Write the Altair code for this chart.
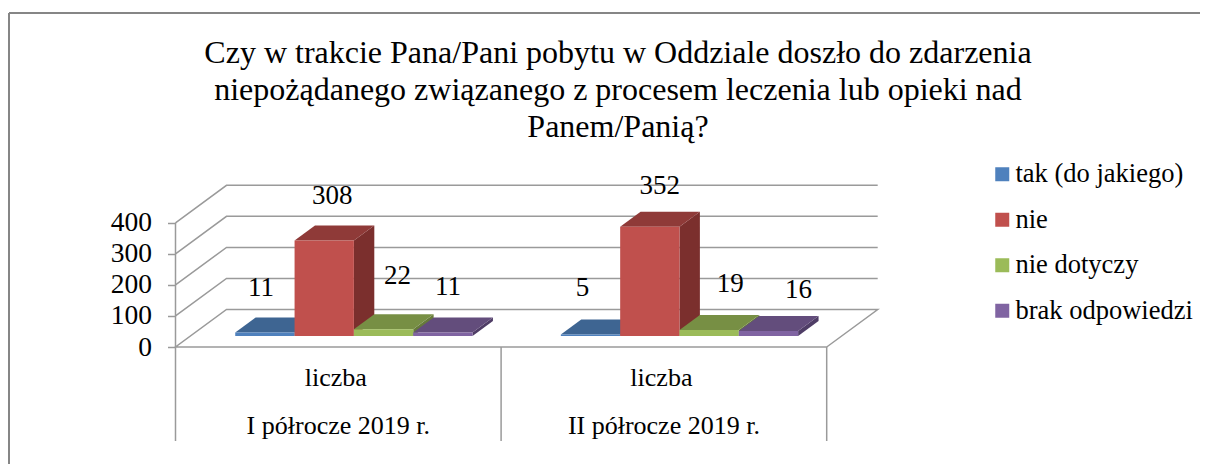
import altair as alt
import pandas as pd

# ---- data ----
periods = ["I półrocze 2019 r.", "II półrocze 2019 r."]
series = ["tak (do jakiego)", "nie", "nie dotyczy", "brak odpowiedzi"]
values_h1 = [11, 308, 22, 11]
values_h2 = [5, 352, 19, 16]
ticks = [0, 100, 200, 300, 400]
front_colors = ["#4F81BD", "#C0504D", "#9BBB59", "#8064A2"]
top_colors = ["#3E6592", "#8F3A38", "#778F44", "#634D7C"]
side_colors = ["#34567C", "#7B2F2D", "#667A3A", "#4F3D66"]

# ---- layout ----
W, H = 1192, 456
CAT_PX = 325.6
VAL_PX = 0.3105
X0, Y0 = 175.5 - 8, 347 - 8        # front-left floor corner inside the chart
DEPTH_X = 51 / CAT_PX
DEPTH_V = 37.5 / VAL_PX
D0, D1 = 0.293, 0.693              # bars' depth range
GAP = 0.1376
BAR = 0.1822
LINE = "#9A9A9A"
FONT = "Liberation Serif"

x_scale = alt.Scale(domain=[-X0 / CAT_PX, (W - X0) / CAT_PX], nice=False, zero=False)
y_scale = alt.Scale(domain=[(Y0 - H) / VAL_PX, Y0 / VAL_PX], nice=False, zero=False)


def px(u, d=0.0):
    return u + d * DEPTH_X


def pv(v, d=0.0):
    return v + d * DEPTH_V


# grid lines on the walls and floor edges
grid_rows = []
gid = 0
for t in ticks:
    pts = [(0, 0), (0, 1), (2, 1)] if t else [(2, 0), (0, 0), (0, 1), (2, 1), (2, 0)]
    for order, (u, d) in enumerate(pts):
        grid_rows.append(dict(g=gid, o=order, x=px(u, d), y=pv(t, d)))
    gid += 1
grid_rows += [dict(g=gid, o=0, x=0, y=0), dict(g=gid, o=1, x=0, y=400)]
grid = pd.DataFrame(grid_rows)

faces, fronts, labels = [], [], []
label_dx = [[-4, 8, 14, 5], [-8, 10, 21, 30]]
label_above = [[45, 44, 53, 46], [46, 41, 46, 41]]
fid = 0
for c, vals in enumerate([values_h1, values_h2]):
    for s, v in enumerate(vals):
        a = c + GAP + s * BAR
        b = a + BAR
        # side face
        for d in (D0, D1):
            faces.append(dict(f=fid, col=side_colors[s], x=px(b, d), y=pv(0, d), y2=pv(v, d)))
        fid += 1
        # top face, described left to right
        xl0, xl1, xr0, xr1 = px(a, D0), px(a, D1), px(b, D0), px(b, D1)
        vf, vb = pv(v, D0), pv(v, D1)
        for xx, lo, hi in [(xl0, vf, vf), (xl1, vf, vb), (xr0, vf, vb), (xr1, vb, vb)]:
            faces.append(dict(f=fid, col=top_colors[s], x=xx, y=lo, y2=hi))
        fid += 1
        fronts.append(dict(series=series[s], x=px(a, D0), x2=px(b, D0), y=pv(0, D0), y2=pv(v, D0)))
        labels.append(dict(t=str(v), x=px((a + b) / 2, D0) + label_dx[c][s] / CAT_PX,
                           y=pv(v, D0) + label_above[c][s] / VAL_PX))
faces = pd.DataFrame(faces)
fronts = pd.DataFrame(fronts)
labels = pd.DataFrame(labels)

base_x = alt.X("x:Q", scale=x_scale, axis=None)
base_y = alt.Y("y:Q", scale=y_scale, axis=alt.Axis(
    values=ticks, offset=-X0, title=None, grid=False, domain=False, ticks=True,
    tickColor=LINE, tickWidth=1.5, tickSize=8, labelFont=FONT, labelFontSize=27.5,
    labelColor="black", labelPadding=16, format="d"))

grid_layer = alt.Chart(grid).mark_line(color=LINE, strokeWidth=1.5).encode(
    x=base_x, y=base_y, detail="g:N", order="o:Q",
)

face_layer = alt.Chart(faces).mark_area(orient="vertical", opacity=1, interpolate="linear").encode(
    x=base_x, y=base_y, y2="y2:Q",
    fill=alt.Fill("col:N", scale=None), detail="f:N",
)

front_layer = alt.Chart(fronts).mark_rect().encode(
    x=base_x, x2="x2:Q", y=base_y, y2="y2:Q",
    color=alt.Color("series:N", scale=alt.Scale(domain=series, range=front_colors),
                    legend=alt.Legend(orient="none", legendX=977, legendY=153, title=None,
                                      symbolType="square", symbolSize=196, symbolStrokeWidth=0,
                                      symbolOffset=4,
                                      labelFont=FONT, labelFontSize=26.5, labelColor="black",
                                      rowPadding=18.5, labelOffset=0, labelLimit=300)),
)

label_layer = alt.Chart(labels).mark_text(font=FONT, fontSize=27, color="black").encode(
    x=base_x, y=base_y, text="t:N")

# category dividers
div = pd.DataFrame({"x": [0, 1, 2]})
div_layer = alt.Chart(div).mark_rule(color=LINE, strokeWidth=1.5).encode(
    x=base_x, y=alt.value(Y0), y2=alt.value(441 - 8))

cats = pd.DataFrame({"x": [0.5, 1.5], "t": periods, "s": ["liczba", "liczba"]})
cat1 = alt.Chart(cats).mark_text(font=FONT, fontSize=26, color="black", dx=-2.5).encode(
    x=base_x, y=alt.value(378 - 8), text="s:N")
cat2 = alt.Chart(cats).mark_text(font=FONT, fontSize=26, color="black").encode(
    x=base_x, y=alt.value(426 - 8), text="t:N")

# chart frame
frame_left = alt.Chart(pd.DataFrame({"a": [0]})).mark_rule(color="#868686", strokeWidth=2).encode(
    x=alt.value(1), y=alt.value(5), y2=alt.value(H))
frame_top = alt.Chart(pd.DataFrame({"a": [0]})).mark_rule(color="#868686", strokeWidth=2).encode(
    x=alt.value(1), x2=alt.value(W), y=alt.value(5))

title = alt.TitleParams(
    text=["Czy w trakcie Pana/Pani pobytu w Oddziale doszło do zdarzenia",
          "niepożądanego związanego z procesem leczenia lub opieki nad",
          "Panem/Panią?"],
    font=FONT, fontSize=32, fontWeight="normal", color="black", anchor="start",
    align="center", frame="group", dx=610, offset=-136, lineHeight=37, baseline="top",
)

chart = alt.layer(frame_left, frame_top, grid_layer, div_layer, face_layer, front_layer,
                  label_layer, cat1, cat2).properties(
    width=W, height=H, title=title, padding=0, autosize=alt.AutoSizeParams(type="none"),
    background="white",
).configure_view(stroke=None)

chart.save("out.html", embed_options={"renderer": "svg", "actions": False})
